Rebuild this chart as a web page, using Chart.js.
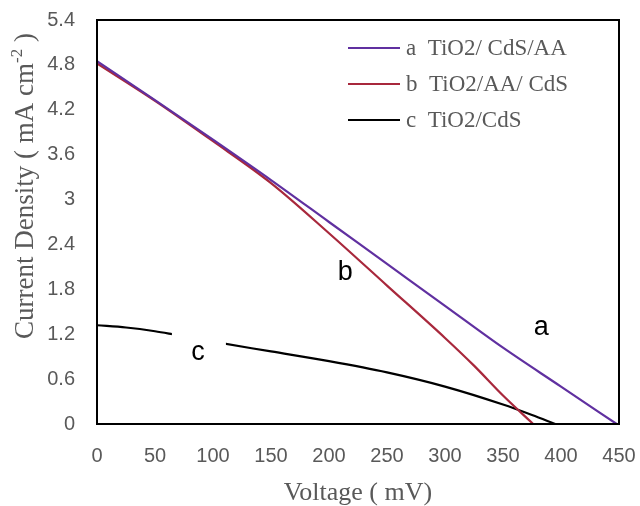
<!DOCTYPE html>
<html lang="en">
<head>
  <meta charset="UTF-8">
  <title>J-V curves</title>
  <script src="https://cdn.jsdelivr.net/npm/chart.js"></script>
  <style>
    html, body { margin: 0; padding: 0; background: #fff; }
    #chart-container { width: 640px; height: 506px; position: relative; }
  </style>
</head>
<body>
  <div id="chart-container">
    <canvas id="jvChart"></canvas>
  </div>

  <script>
    // series (voltage in mV, current density in mA cm-2)
    const seriesNames = ['a  TiO2/ CdS/AA', 'b  TiO2/AA/ CdS', 'c  TiO2/CdS'];
    const voltageA = [0, 50, 100, 150, 200, 250, 300, 350, 400, 448];
    const currentA = [4.85, 4.33, 3.80, 3.26, 2.70, 2.14, 1.58, 1.02, 0.50, 0];
    const voltageB = [0, 50, 100, 150, 200, 250, 300, 325, 350, 376];
    const currentB = [4.82, 4.32, 3.78, 3.22, 2.55, 1.85, 1.15, 0.78, 0.38, 0];
    const voltageC = [0, 25, 50, 65, 100, 150, 200, 250, 300, 350, 375, 395];
    const currentC = [1.32, 1.29, 1.24, 1.20, 1.10, 0.97, 0.84, 0.69, 0.50, 0.26, 0.12, 0];
    const xTicks = [0, 50, 100, 150, 200, 250, 300, 350, 400, 450];
    const yTicks = [0, 0.6, 1.2, 1.8, 2.4, 3, 3.6, 4.2, 4.8, 5.4];

    const colors = ['#6030A0', '#A8283C', '#000000'];
    const gray = '#595959';

    function pts(xs, ys) {
      return xs.map((x, i) => ({ x: x, y: ys[i] }));
    }

    // frame, curve letters (with white box behind), legend, y title
    const decor = {
      id: 'decor',
      afterDatasetsDraw(chart) {
        const ctx = chart.ctx;
        const a = chart.chartArea;
        const xs = chart.scales.x, ys = chart.scales.y;
        ctx.save();

        // letters on the curves
        const letters = [
          { t: 'a', x: 383, y: 1.29 },
          { t: 'b', x: 214, y: 2.03 },
          { t: 'c', x: 87, y: 0.95 }
        ];
        ctx.font = '27px "Liberation Sans"';
        ctx.textAlign = 'center';
        ctx.textBaseline = 'middle';
        letters.forEach(l => {
          const px = xs.getPixelForValue(l.x), py = ys.getPixelForValue(l.y);
          if (l.t === 'c') {
            ctx.fillStyle = '#fff';
            ctx.fillRect(px - 26, py - 28, 54, 40);
          }
          ctx.fillStyle = '#000';
          ctx.fillText(l.t, px, py);
        });

        // frame
        ctx.strokeStyle = '#000';
        ctx.lineWidth = 2;
        ctx.strokeRect(a.left, a.top, a.right - a.left, a.bottom - a.top);

        // legend
        ctx.font = '23px "Liberation Serif"';
        ctx.textAlign = 'left';
        seriesNames.forEach((name, i) => {
          const y = 48 + i * 36;
          ctx.strokeStyle = colors[i];
          ctx.lineWidth = 2;
          ctx.beginPath();
          ctx.moveTo(348, y);
          ctx.lineTo(400, y);
          ctx.stroke();
          ctx.fillStyle = gray;
          ctx.fillText(name, 406, y + 1);
        });

        // y axis title with superscript
        ctx.translate(33, 186);
        ctx.rotate(-Math.PI / 2);
        ctx.textBaseline = 'alphabetic';
        ctx.fillStyle = gray;
        const main = 'Current Density ( mA cm';
        const sup = '-2';
        const tail = ' )';
        ctx.font = '27px "Liberation Serif"';
        const w1 = ctx.measureText(main).width;
        const w3 = ctx.measureText(tail).width;
        ctx.font = '17px "Liberation Serif"';
        const w2 = ctx.measureText(sup).width;
        let x0 = -(w1 + w2 + w3) / 2;
        ctx.font = '27px "Liberation Serif"';
        ctx.fillText(main, x0, 0);
        ctx.font = '17px "Liberation Serif"';
        ctx.fillText(sup, x0 + w1, -11);
        ctx.font = '27px "Liberation Serif"';
        ctx.fillText(tail, x0 + w1 + w2, 0);
        ctx.restore();
      }
    };

    const ctx = document.getElementById('jvChart').getContext('2d');
    new Chart(ctx, {
      type: 'scatter',
      data: {
        datasets: [
          { label: seriesNames[0], data: pts(voltageA, currentA) },
          { label: seriesNames[1], data: pts(voltageB, currentB) },
          { label: seriesNames[2], data: pts(voltageC, currentC) }
        ].map((d, i) => Object.assign(d, {
          showLine: true,
          borderColor: colors[i],
          backgroundColor: colors[i],
          borderWidth: 2.2,
          pointRadius: 0,
          cubicInterpolationMode: 'monotone'
        }))
      },
      options: {
        responsive: true,
        maintainAspectRatio: false,
        animation: false,
        layout: { padding: { left: 0, right: 21, top: 20, bottom: -3 } },
        plugins: {
          legend: { display: false },
          tooltip: { enabled: false }
        },
        scales: {
          x: {
            type: 'linear',
            min: 0,
            max: 450,
            afterBuildTicks: s => { s.ticks = xTicks.map(v => ({ value: v })); },
            afterFit: s => { s.height = 85; s.paddingLeft = 0; s.paddingRight = 0; },
            grid: { display: false, drawTicks: false },
            border: { display: false },
            ticks: {
              padding: 20,
              color: gray,
              font: { family: 'Liberation Sans', size: 20 },
              maxRotation: 0
            },
            title: {
              display: true,
              text: 'Voltage ( mV)',
              color: gray,
              font: { family: 'Liberation Serif', size: 26 },
              padding: { top: 0, bottom: 0 }
            }
          },
          y: {
            min: 0,
            max: 5.4,
            afterBuildTicks: s => { s.ticks = yTicks.map(v => ({ value: v })); },
            afterFit: s => { s.width = 97; s.paddingTop = 0; s.paddingBottom = 0; },
            grid: { display: false, drawTicks: false },
            border: { display: false },
            ticks: {
              padding: 22,
              color: gray,
              font: { family: 'Liberation Sans', size: 20 },
              callback: v => String(Number(v.toFixed(1)))
            }
          }
        }
      },
      plugins: [decor]
    });
  </script>
</body>
</html>
